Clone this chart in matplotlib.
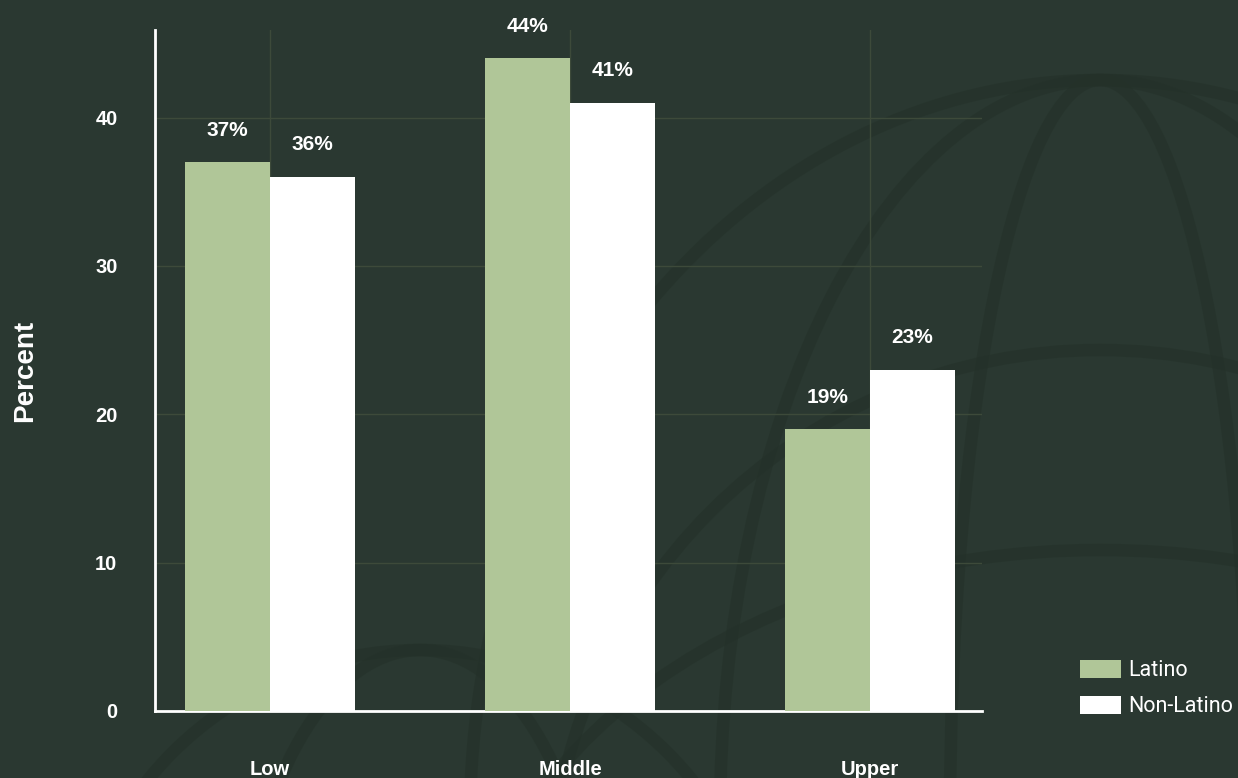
import numpy as np
import matplotlib.pyplot as plt
from matplotlib.patches import Ellipse

# data
groups = ["Low", "Middle", "Upper"]
latino = [37, 44, 19]
non_latino = [36, 41, 23]
yticks = [0, 10, 20, 30, 40]

bg = "#2a3831"
green = "#b0c698"
grid_col = "#3d4a3a"
line_dark = "#243129"

fig = plt.figure(figsize=(12.38, 7.78), dpi=100, facecolor=bg)

# faint globe drawing behind everything, in pixel units
bgax = fig.add_axes([0, 0, 1, 1], zorder=-1)
bgax.set_xlim(0, 1238)
bgax.set_ylim(778, 0)
bgax.axis("off")
bgax.set_facecolor(bg)
for (cx, cy, w, h) in [
    (1100, 820, 1260, 1480),
    (1100, 820, 760, 1480),
    (1100, 820, 300, 1480),
    (1100, 900, 1100, 1100),
    (1100, 1000, 1260, 900),
    (420, 1000, 700, 700),
    (420, 1000, 360, 700),
]:
    bgax.add_patch(Ellipse((cx, cy), w, h, fill=False,
                           ec=line_dark, lw=9, alpha=0.6))

ax = fig.add_axes([155/1238, 67/778, 827/1238, 681/778])
ax.set_facecolor("none")

x = np.arange(len(groups))
bw = 0.283
b1 = ax.bar(x - bw/2, latino, bw, color=green, label="Latino", zorder=3)
b2 = ax.bar(x + bw/2, non_latino, bw, color="white", label="Non-Latino", zorder=3)

for bars, vals in [(b1, latino), (b2, non_latino)]:
    for r, v in zip(bars, vals):
        ax.annotate(f"{v}%", (r.get_x() + r.get_width()/2, v),
                    xytext=(0, 23), textcoords="offset points",
                    ha="center", va="center", color="white",
                    fontsize=15, fontweight="bold", family="Liberation Sans")

ax.set_xlim(-0.383, 2.373)
ax.set_ylim(0, 45.9)
ax.set_xticks(x)
ax.set_xticklabels(groups)
ax.set_yticks(yticks)
ax.tick_params(length=0, colors="white", labelsize=14.5)
ax.tick_params(axis="x", pad=35)
ax.tick_params(axis="y", pad=27)
for lab in ax.get_xticklabels() + ax.get_yticklabels():
    lab.set_fontweight("bold")
    lab.set_family("Liberation Sans")

ax.grid(True, color=grid_col, lw=1, zorder=0)
for s in ["top", "right"]:
    ax.spines[s].set_visible(False)
for s in ["left", "bottom"]:
    ax.spines[s].set_color("white")
    ax.spines[s].set_linewidth(2)

ax.set_ylabel("Percent", color="white", fontsize=20, fontweight="bold",
              family="Liberation Sans")
ax.yaxis.set_label_coords(-0.141, 0.5)

fig.legend(handles=[b1, b2], loc="upper left",
           bbox_to_anchor=(1080/1238, 1 - 660/778), frameon=False,
           labelcolor="white", prop={"family": "Roboto", "size": 15.5},
           handlelength=1.9, handleheight=0.9, handletextpad=0.35,
           labelspacing=0.68, borderpad=0, borderaxespad=0)

plt.savefig("out.png", dpi=100, facecolor=bg)
